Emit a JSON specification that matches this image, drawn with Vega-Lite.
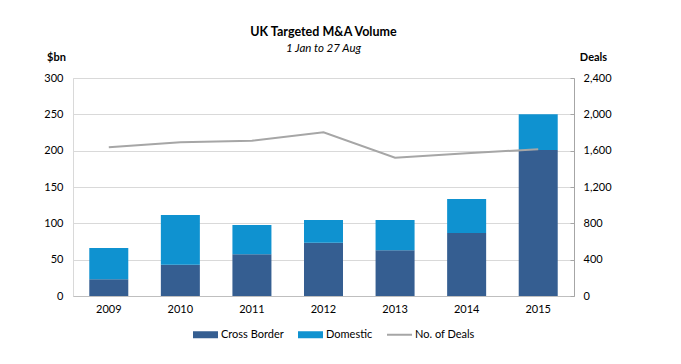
{
  "$schema": "https://vega.github.io/schema/vega-lite/v6.json",
  "width": 501,
  "height": 218,
  "autosize": {"type": "none"},
  "padding": {"left": 73, "top": 78, "right": 107, "bottom": 68},
  "background": "white",
  "title": {
    "text": "UK Targeted M&A Volume",
    "subtitle": "1 Jan to 27 Aug",
    "anchor": "middle",
    "font": "Lato",
    "fontSize": 12.5,
    "fontWeight": "bold",
    "color": "#000000",
    "subtitleFont": "Lato",
    "subtitleFontSize": 11.5,
    "subtitleFontStyle": "italic",
    "subtitleColor": "#000000",
    "subtitlePadding": 4,
    "offset": -3
  },
  "config": {
    "font": "Lato",
    "view": {"stroke": "#D9D9D9", "strokeWidth": 1},
    "axis": {"labelColor": "#000000", "titleColor": "#000000", "labelFontSize": 11, "labelFont": "Lato", "titleFont": "Lato"}
  },
  "datasets": {
    "volume": [
      {"year": "2009", "series": "Cross Border", "value": 23},
      {"year": "2009", "series": "Domestic", "value": 43},
      {"year": "2010", "series": "Cross Border", "value": 43},
      {"year": "2010", "series": "Domestic", "value": 68.5},
      {"year": "2011", "series": "Cross Border", "value": 57.3},
      {"year": "2011", "series": "Domestic", "value": 40.4},
      {"year": "2012", "series": "Cross Border", "value": 73.4},
      {"year": "2012", "series": "Domestic", "value": 31.2},
      {"year": "2013", "series": "Cross Border", "value": 62.8},
      {"year": "2013", "series": "Domestic", "value": 41.8},
      {"year": "2014", "series": "Cross Border", "value": 86.7},
      {"year": "2014", "series": "Domestic", "value": 46.8},
      {"year": "2015", "series": "Cross Border", "value": 201},
      {"year": "2015", "series": "Domestic", "value": 49}
    ],
    "deals": [
      {"year": "2009", "series": "No. of Deals", "deals": 1637},
      {"year": "2010", "series": "No. of Deals", "deals": 1692},
      {"year": "2011", "series": "No. of Deals", "deals": 1710},
      {"year": "2012", "series": "No. of Deals", "deals": 1802},
      {"year": "2013", "series": "No. of Deals", "deals": 1523},
      {"year": "2014", "series": "No. of Deals", "deals": 1572},
      {"year": "2015", "series": "No. of Deals", "deals": 1615}
    ]
  },
  "encoding": {
    "x": {
      "field": "year",
      "type": "nominal",
      "scale": {"paddingInner": 0.455, "paddingOuter": 0.2275},
      "axis": {"title": null, "labelAngle": 0, "ticks": false, "domainColor": "#BFBFBF", "labelPadding": 7, "grid": false}
    },
    "color": {
      "field": "series",
      "type": "nominal",
      "scale": {"domain": ["Cross Border", "Domestic", "No. of Deals"], "range": ["#355E91", "#0F92D0", "#A6A6A6"]},
      "legend": {
        "title": null,
        "orient": "none",
        "legendX": 120,
        "legendY": 244,
        "direction": "horizontal",
        "labelFontSize": 11,
        "labelFont": "Lato",
        "labelColor": "#000000",
        "labelOffset": 3,
        "columnPadding": 14,
        "symbolSize": 625,
        "symbolType": "M-1,-0.28H1V0.28H-1Z",
        "symbolStrokeWidth": 0,
        "symbolOpacity": 1,
        "encode": {
          "symbols": {
            "update": {
              "shape": {"signal": "datum.value === 'No. of Deals' ? 'M-1,-0.08H1V0.08H-1Z' : 'M-1,-0.28H1V0.28H-1Z'"},
              "fill": {"signal": "scale('color', datum.value)"}
            }
          }
        }
      }
    }
  },
  "layer": [
    {
      "data": {"name": "volume"},
      "mark": {"type": "bar"},
      "encoding": {
        "y": {
          "field": "value",
          "type": "quantitative",
          "stack": "zero",
          "scale": {"domain": [0, 300]},
          "axis": {
            "orient": "left",
            "values": [0, 50, 100, 150, 200, 250, 300],
            "grid": true,
            "gridColor": "#D9D9D9",
            "domain": false,
            "ticks": false,
            "labelPadding": 10,
            "title": "$bn",
            "titleAngle": 0,
            "titleAlign": "center",
            "titleBaseline": "middle",
            "titleFontWeight": "bold",
            "titleFontSize": 11,
            "titleX": -17,
            "titleY": -21
          }
        },
        "order": {"field": "series", "sort": "ascending"}
      }
    },
    {
      "data": {"name": "deals"},
      "mark": {"type": "line", "strokeWidth": 2},
      "encoding": {
        "y": {
          "field": "deals",
          "type": "quantitative",
          "scale": {"domain": [0, 2400]},
          "axis": {
            "orient": "right",
            "values": [0, 400, 800, 1200, 1600, 2000, 2400],
            "format": ",.0f",
            "grid": false,
            "domain": true,
            "domainColor": "#A6A6A6",
            "ticks": true,
            "tickColor": "#A6A6A6",
            "tickSize": -4,
            "labelPadding": 13,
            "title": "Deals",
            "titleAngle": 0,
            "titleAlign": "center",
            "titleBaseline": "middle",
            "titleFontWeight": "bold",
            "titleFontSize": 11,
            "titleX": 19,
            "titleY": -21
          }
        }
      }
    }
  ],
  "resolve": {"scale": {"y": "independent"}}
}
